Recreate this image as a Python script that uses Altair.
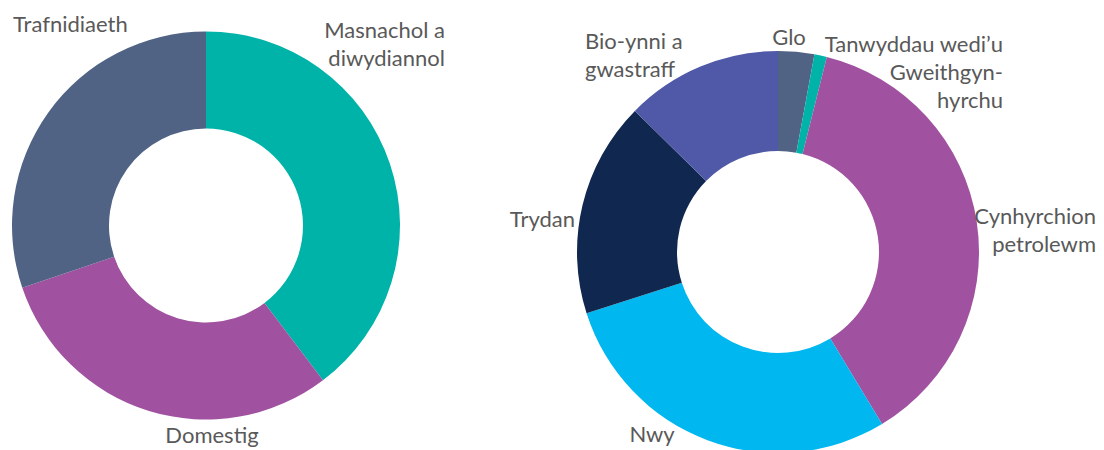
import altair as alt
import pandas as pd

# ---- data -------------------------------------------------------------
sector_names = ["Masnachol a diwydiannol", "Domestig", "Trafnidiaeth"]
sector_values = [39.7, 30.1, 30.2]

fuel_names = ["Glo", "Tanwyddau wedi'u Gweithgynhyrchu", "Cynhyrchion petrolewm",
              "Nwy", "Trydan", "Bio-ynni a gwastraff"]
fuel_values = [2.9, 1.0, 37.4, 28.7, 17.3, 12.6]

# label texts (line-broken as in the picture)
sector_labels = ["Masnachol a\ndiwydiannol", "Domestig", "Trafnidiaeth"]
fuel_labels = ["Glo", "Tanwyddau wedi\u2019u\nGweithgyn-\nhyrchu", "Cynhyrchion\npetrolewm",
               "Nwy", "Trydan", "Bio-ynni a\ngwastraff"]

# ---- styles / layout ---------------------------------------------------
sector_colors = ["#00B3A9", "#A052A0", "#506385"]
fuel_colors = ["#506385", "#00B3A9", "#A052A0", "#00B7EF", "#10284F", "#5058A8"]

W, H = 1088, 442
left_center = (198, 217.5)
left_r = (97, 194)
right_center = (770, 244)
right_r = (101, 201)

# label anchor (x, y of first baseline) and alignment, chart coordinates
sector_label_pos = [(437, 30, "right"), (204, 435, "center"), (5, 24, "left")]
fuel_label_pos = [(781, 37, "center"), (995, 44, "right"), (1088, 216, "right"),
                  (644, 434, "center"), (567, 219, "right"), (577, 41, "left")]

FONT = "Lato"
FS = 22
LH = 28
TXT = "#595959"

sectors = pd.DataFrame({"name": sector_names, "value": sector_values,
                        "idx": range(len(sector_names))})
fuels = pd.DataFrame({"name": fuel_names, "value": fuel_values,
                      "idx": range(len(fuel_names))})


def donut(df, colors, center, radii):
    return alt.Chart(df).mark_arc(innerRadius=radii[0], outerRadius=radii[1]).encode(
        theta=alt.Theta("value:Q", stack=True),
        order=alt.Order("idx:O"),
        color=alt.Color("name:N", scale=alt.Scale(domain=list(df["name"]), range=colors),
                        legend=None),
        x=alt.value(center[0]),
        y=alt.value(center[1]),
    )


labels = pd.DataFrame({
    "label": sector_labels + fuel_labels,
    "x": [p[0] for p in sector_label_pos + fuel_label_pos],
    "y": [p[1] for p in sector_label_pos + fuel_label_pos],
    "align": [p[2] for p in sector_label_pos + fuel_label_pos],
})

text_layers = []
for al in ["left", "center", "right"]:
    text_layers.append(
        alt.Chart(labels).transform_filter(alt.datum.align == al).mark_text(
            align=al, baseline="alphabetic", font=FONT, fontSize=FS, color=TXT,
            lineBreak="\n", lineHeight=LH,
        ).encode(
            x=alt.X("x:Q", scale=None),
            y=alt.Y("y:Q", scale=None),
            text="label:N",
        )
    )

chart = alt.layer(
    donut(sectors, sector_colors, left_center, left_r),
    donut(fuels, fuel_colors, right_center, right_r),
    *text_layers,
).resolve_scale(theta="independent", color="independent").properties(
    width=W, height=H, padding=0, autosize=alt.AutoSizeParams(type="none"),
    background="white",
).configure_view(stroke=None)

chart.save("out.html", embed_options={"renderer": "svg", "actions": False})
